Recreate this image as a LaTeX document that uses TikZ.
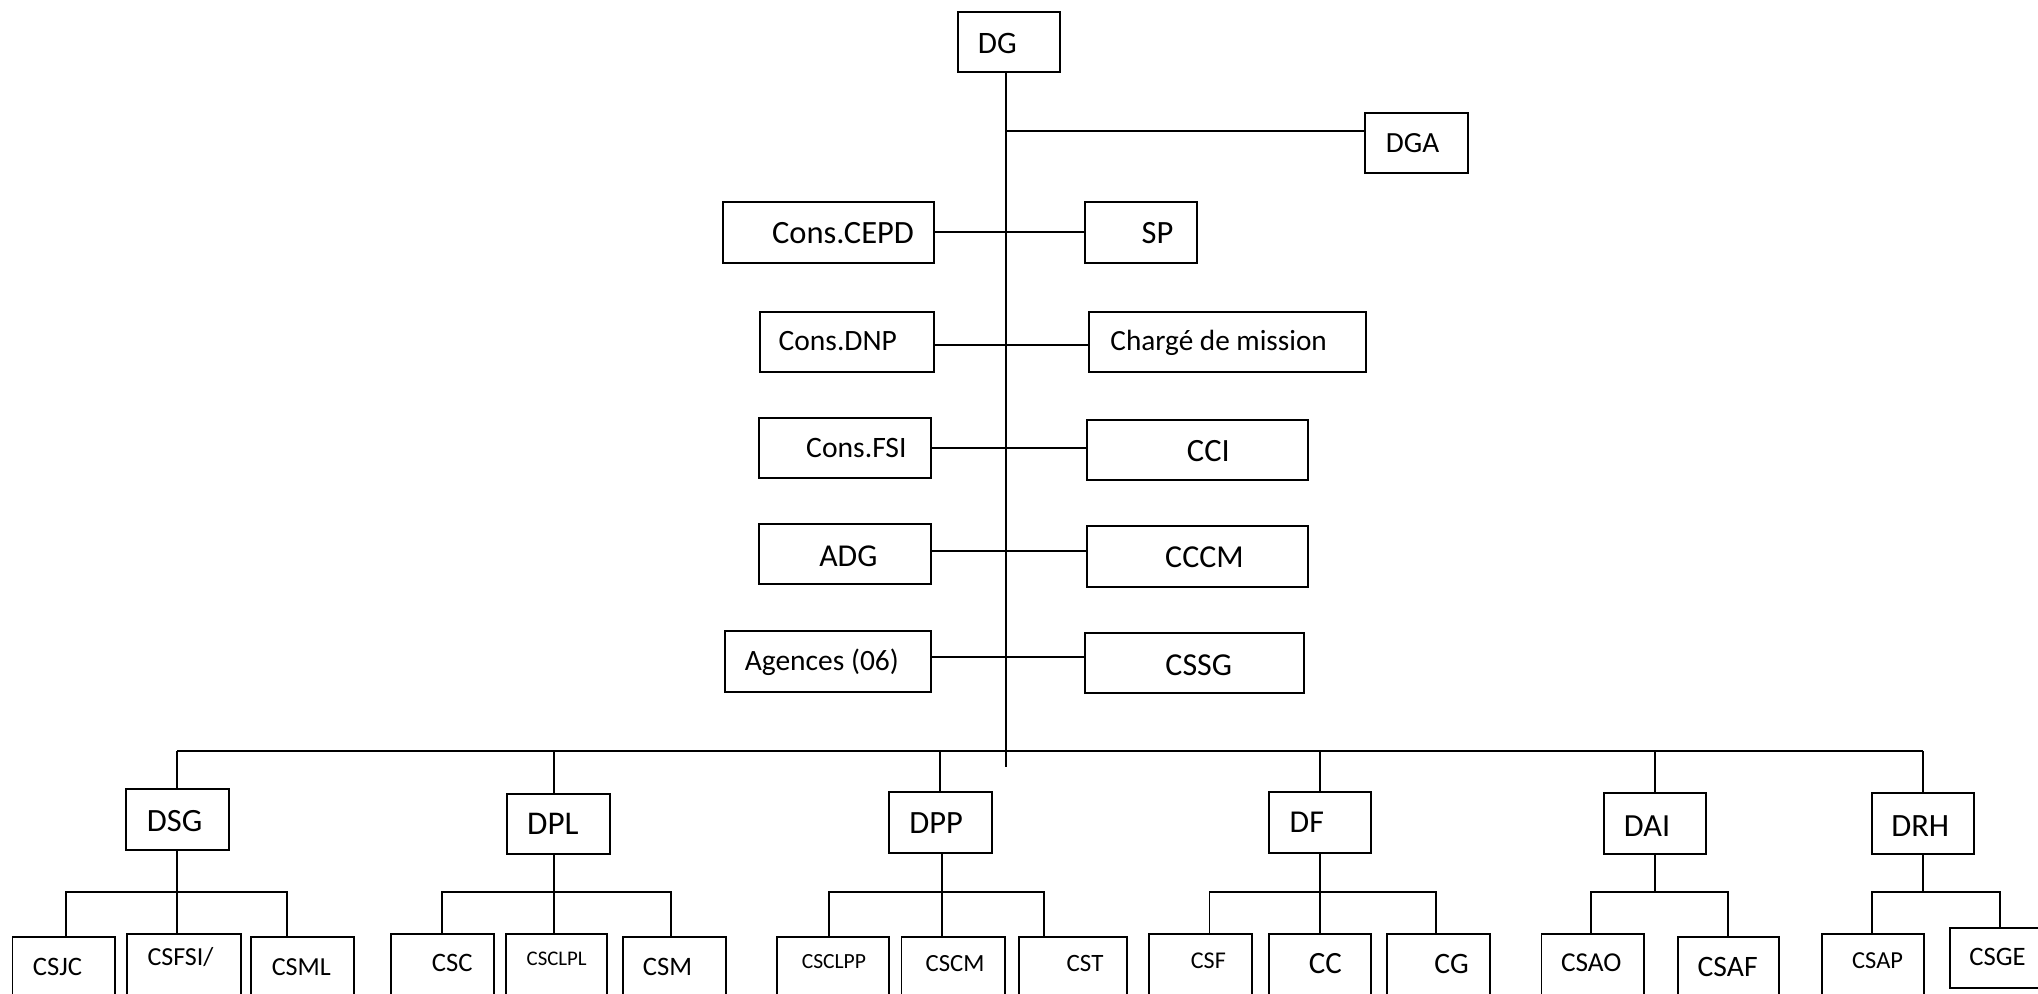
\documentclass[tikz,border=0pt]{standalone}
\usepackage{fontspec}
\setmainfont{Carlito}
\newcommand\bx[5]{\node[box, minimum width={#4-#2}, minimum height={#5-#3}] (#1) at ({(#2+#4)/2},{(#3+#5)/2}) {};}
\newcommand\tx[5]{\node[lbl, font=\fontsize{#4}{#4}\selectfont] (#1) at (#2,#3) {#5};}
\begin{document}
\begin{tikzpicture}[x=1pt,y=-1pt,
  box/.style={draw, line width=1.5pt, inner sep=0pt, outer sep=0pt},
  conn/.style={line width=1.5pt},
  lbl/.style={anchor=base, inner sep=0pt}]
\clip (0,0) rectangle (1568,764);
\fill[white] (0,0) rectangle (1568,764);
% top boxes
\bx{dg}{736.9}{9}{815.3}{55.2}
\bx{dga}{1050.1}{86.7}{1129.4}{133.4}
\bx{cepd}{556.3}{155.2}{718.4}{202.1}
\bx{sp}{835}{155.2}{921.3}{202.1}
\bx{dnp}{584.5}{239.8}{718.4}{286}
\bx{cdm}{837.7}{239.8}{1050.9}{286}
\bx{fsi}{583.9}{321.4}{716.5}{368}
\bx{cci}{836.4}{323.2}{1006.1}{369.3}
\bx{adg}{583.9}{403.2}{716.5}{449.6}
\bx{cccm}{836.4}{404.7}{1006.1}{451.4}
\bx{ag}{557.5}{485.5}{716.5}{532.2}
\bx{cssg}{834.7}{487.3}{1003}{533.4}
% directions
\bx{dsg}{97}{607}{176}{654}
\bx{dpl}{390}{611}{469}{657}
\bx{dpp}{684}{609}{763}{656}
\bx{df}{976}{609}{1055}{656}
\bx{dai}{1234}{610}{1312.5}{657}
\bx{drh}{1440}{610}{1519}{657}
% services
\bx{csjc}{9.6}{721}{88.7}{780}
\bx{csfsi}{98}{718.7}{185.6}{780}
\bx{csml}{193}{721}{272}{780}
\bx{csc}{301}{718.7}{380}{780}
\bx{csclpl}{389}{718.7}{467}{780}
\bx{csm}{479.3}{721}{558.2}{780}
\bx{csclpp}{598.1}{721}{683.9}{780}
\bx{cscm}{693.6}{721}{773.3}{780}
\bx{cst}{784.3}{721}{867.3}{780}
\bx{csf}{884.3}{718.7}{963}{780}
\bx{cc}{976.6}{718.7}{1054.9}{780}
\bx{cg}{1067.4}{718.7}{1146.4}{780}
\bx{csao}{1186}{718.7}{1264.6}{780}
\bx{csaf}{1291}{721}{1369}{780}
\bx{csap}{1402}{718.7}{1480}{780}
\bx{csge}{1500}{714}{1578}{760}
% texts
\tx{t-dg}{767.3}{41}{24}{DG}
\tx{t-dga}{1086.8}{117.5}{22.5}{DGA}
\tx{t-cepd}{648.6}{187.2}{25}{Cons.CEPD}
\tx{t-sp}{890.6}{187.2}{25}{SP}
\tx{t-dnp}{644.6}{269.3}{22.7}{Cons.DNP}
\tx{t-cdm}{937.6}{269.3}{22.5}{Chargé de mission}
\tx{t-fsi}{658.9}{351.9}{22.8}{Cons.FSI}
\tx{t-cci}{929.7}{355.2}{25}{CCI}
\tx{t-adg}{652.7}{435.5}{24.5}{ADG}
\tx{t-cccm}{926.7}{436.5}{24.6}{CCCM}
\tx{t-ag}{632.3}{515.5}{22.7}{Agences (06)}
\tx{t-cssg}{922.3}{519.4}{24.6}{CSSG}
\tx{t-dsg}{134.4}{639.9}{25}{DSG}
\tx{t-dpl}{425.4}{641.9}{25.5}{DPL}
\tx{t-dpp}{720.3}{641.2}{25}{DPP}
\tx{t-df}{1005.4}{640.7}{24.5}{DF}
\tx{t-dai}{1267.2}{643.2}{24.8}{DAI}
\tx{t-drh}{1477.4}{643.2}{25}{DRH}
\tx{t-csjc}{44.2}{750.2}{20.5}{CSJC}
\tx{t-csfsi}{138.9}{742.5}{20}{CSFSI/}
\tx{t-csml}{231.8}{750.2}{20}{CSML}
\tx{t-csc}{347.9}{747.6}{20.5}{CSC}
\tx{t-csclpl}{428.3}{742.5}{16}{CSCLPL}
\tx{t-csm}{513.6}{750.2}{20.5}{CSM}
\tx{t-csclpp}{641.6}{745}{16.6}{CSCLPP}
\tx{t-cscm}{734.8}{747.6}{19}{CSCM}
\tx{t-cst}{834.8}{747.6}{19.2}{CST}
\tx{t-csf}{929.7}{745}{18.5}{CSF}
\tx{t-cc}{1019.7}{748.9}{23.8}{CC}
\tx{t-cg}{1116.8}{748.9}{22.8}{CG}
\tx{t-csao}{1224.3}{747.6}{21}{CSAO}
\tx{t-csaf}{1329.2}{751.4}{22.8}{CSAF}
\tx{t-csap}{1444.6}{745}{18.8}{CSAP}
\tx{t-csge}{1536.8}{742.5}{20.5}{CSGE}
% trunk and side links
\coordinate (tb) at (774,590);
\coordinate (tdga) at (774,100.8);
\coordinate (bus) at (774,578);
\coordinate (sub) at (0,686);
\draw[conn] (dg.south -| tb) -- (tb);
\draw[conn] (tdga) -- (tdga -| dga.west);
\draw[conn] (cepd.east) -- (cepd.east -| sp.west);
\draw[conn] ([yshift=-2.5pt]dnp.east) -- ([yshift=-2.5pt]dnp.east -| cdm.west);
\draw[conn] (fsi.east) -- (fsi.east -| cci.west);
\draw[conn] ([yshift=2.4pt]adg.east) -- ([yshift=2.4pt]adg.east -| cccm.west);
\draw[conn] ([yshift=3.5pt]ag.east) -- ([yshift=3.5pt]ag.east -| cssg.west);
% main bus
\draw[conn] (dsg.north |- bus) -- (drh.north |- bus);
\foreach \p in {dsg,dpp,df,dai,drh} \draw[conn] (\p.north) -- (\p.north |- bus);
\draw[conn] ([xshift=-3.5pt]dpl.north) -- ([xshift=-3.5pt]dpl.north |- bus);
% DSG
\draw[conn] ([xshift=1.3pt]csjc.north) -- ([xshift=1.3pt]csjc.north |- sub) -- ([xshift=-11.5pt]csml.north |- sub) -- ([xshift=-11.5pt]csml.north);
\draw[conn] (dsg.south) -- (dsg.south |- csfsi.north);
% DPL
\draw[conn] ([xshift=-0.8pt]csc.north) -- ([xshift=-0.8pt]csc.north |- sub) -- ([xshift=-2.4pt]csm.north |- sub) -- ([xshift=-2.4pt]csm.north);
\draw[conn] ([xshift=-3.5pt]dpl.south) -- ([xshift=-3.5pt]dpl.south |- csclpl.north);
% DPP
\draw[conn] ([xshift=-3pt]csclpp.north) -- ([xshift=-3pt]csclpp.north |- sub) -- ([xshift=-22.7pt]cst.north |- sub) -- ([xshift=-22.7pt]cst.north);
\draw[conn] ([xshift=1.5pt]dpp.south) -- ([xshift=1.5pt]dpp.south |- cscm.north);
% DF
\draw[conn] ([xshift=6.9pt]csf.north) -- ([xshift=6.9pt]csf.north |- sub) -- ([xshift=-2.3pt]cg.north |- sub) -- ([xshift=-2.3pt]cg.north);
\draw[conn] (df.south) -- (df.south |- cc.north);
% DAI
\draw[conn] ([xshift=-0.9pt]csao.north) -- ([xshift=-0.9pt]csao.north |- sub) -- ([xshift=-0.5pt]csaf.north |- sub) -- ([xshift=-0.5pt]csaf.north);
\draw[conn] (dai.south) -- (dai.south |- sub);
% DRH
\draw[conn] ([xshift=-1pt]csap.north) -- ([xshift=-1pt]csap.north |- sub) -- (csge.north |- sub) -- (csge.north);
\draw[conn] (drh.south) -- (drh.south |- sub);
\end{tikzpicture}
\end{document}
